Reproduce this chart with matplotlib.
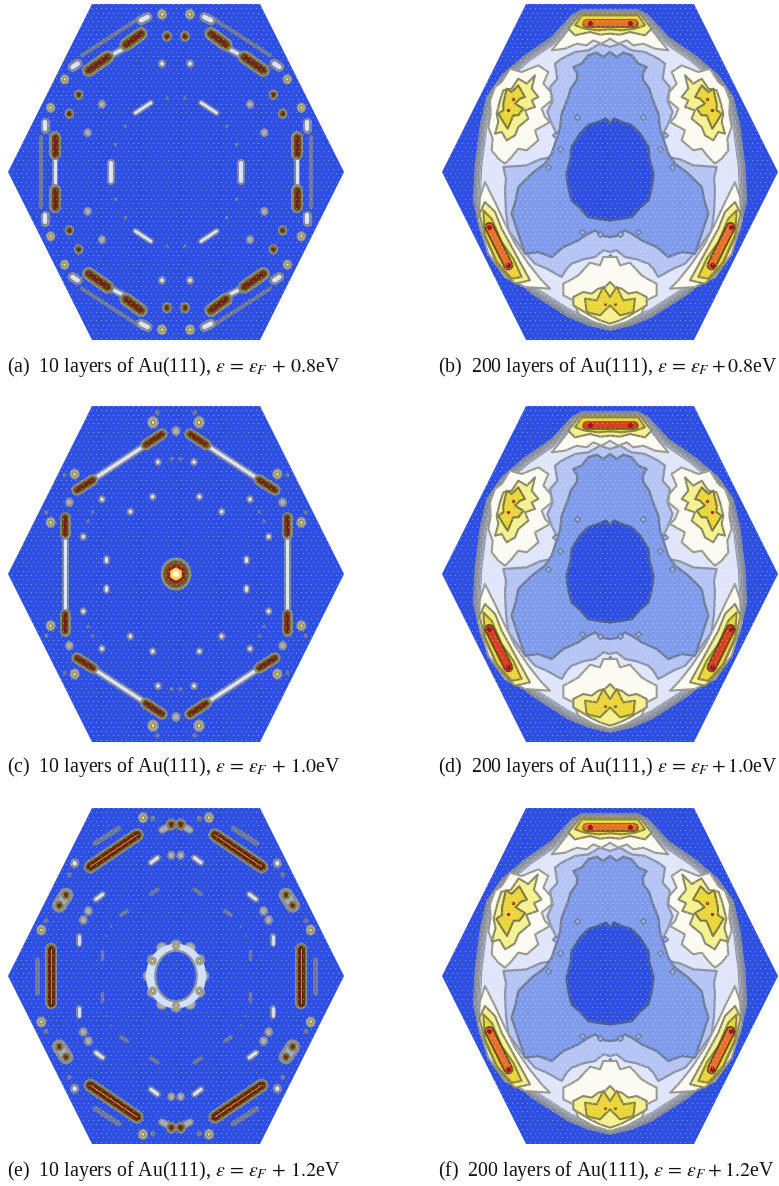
import numpy as np
import matplotlib
matplotlib.use("Agg")
import matplotlib.pyplot as plt
from matplotlib.patches import Polygon, Ellipse, RegularPolygon

plt.rcParams['mathtext.fontset'] = 'stix'
W, H = 779, 1186
BLUE = '#2d4fe3'

# ---------- values (offsets from hexagon centre, 3 units = 1 px) ----------
HEX = [(-252, -504), (252, -504), (504, 0), (252, 504), (-252, 504), (-504, 0)]

# kind, x0, y0, x1, y1, radius; mirrored into all four quadrants
SPOTS_A = [
    ('ring', 42, -473, 42, -473, 15), ('brown', 27, -407, 27, -407, 15), ('white', 42, -325, 42, -325, 12),
    ('dot', 27, -222, 27, -222, 5), ('bar', 112, -460, 282, -350, 6), ('white', 85, -465, 105, -455, 15),
    ('white', 130, -385, 240, -325, 11), ('brown', 105, -415, 150, -382, 20), ('brown', 205, -345, 262, -305, 20),
    ('white', 295, -325, 310, -315, 15), ('ring', 334, -278, 334, -278, 14), ('brown', 292, -232, 292, -232, 14),
    ('grey', 222, -203, 222, -203, 12), ('white', 75, -208, 122, -177, 9), ('dot', 152, -137, 152, -137, 5),
    ('dot', 182, -82, 182, -82, 5), ('ring', 376, -193, 376, -193, 14), ('brown', 320, -175, 320, -175, 14),
    ('white', 392, -150, 392, -130, 14), ('grey', 265, -118, 265, -118, 12), ('white', 362, -80, 362, 80, 9),
    ('brown', 362, -105, 362, -55, 18), ('bar', 404, -105, 404, 105, 6), ('white', 194, -28, 194, 28, 12),
]
SPOTS_C = [
    ('dot', 56, -484, 56, -484, 7), ('ring', 69, -455, 69, -455, 17), ('grey', 0, -429, 0, -429, 13),
    ('white', 37, -422, 297, -252, 11), ('brown', 42, -420, 90, -388, 17), ('brown', 250, -282, 297, -252, 17),
    ('dot', 13, -345, 13, -345, 6), ('white', 54, -336, 54, -336, 11), ('ring', 304, -300, 304, -300, 15),
    ('dot', 334, -297, 334, -297, 6), ('white', 70, -232, 70, -232, 11), ('white', 222, -224, 222, -224, 11),
    ('grey', 320, -215, 320, -215, 13), ('white', 137, -187, 137, -187, 11), ('dot', 250, -186, 250, -186, 5),
    ('dot', 264, -158, 264, -158, 5), ('dot', 389, -185, 389, -185, 6), ('ring', 376, -155, 376, -155, 15),
    ('white', 278, -112, 278, -112, 11), ('white', 209, -48, 209, -40, 10), ('white', 334, -170, 334, 170, 10),
    ('brown', 334, -170, 334, -120, 16),
]
SPOTS_E = [
    ('ring', 99, -475, 99, -475, 15), ('dot', 70, -473, 70, -473, 8), ('grey', 16, -452, 42, -438, 11),
    ('brown', 14, -455, 14, -455, 16), ('bar', 172, -443, 242, -398, 8), ('dark', 117, -423, 257, -328, 20),
    ('grey', 14, -362, 14, -362, 12), ('white', 55, -355, 75, -340, 10), ('white', 304, -338, 304, -338, 14),
    ('dot', 320, -304, 320, -304, 7), ('bar', 55, -260, 75, -246, 6), ('bar', 147, -195, 165, -183, 6),
    ('dot', 194, -148, 194, -148, 3), ('dot', 209, -120, 209, -120, 3), ('bar', 222, -75, 222, -50, 5),
    ('grey', 330, -243, 350, -212, 22), ('brown', 330, -243, 330, -243, 14), ('brown', 350, -212, 350, -212, 14),
    ('white', 220, -245, 240, -230, 10), ('grey', 263, -195, 263, -195, 13), ('grey', 278, -168, 278, -168, 13),
    ('dot', 390, -166, 390, -166, 7), ('ring', 404, -138, 404, -138, 15), ('white', 292, -120, 292, -95, 9),
    ('dark', 376, -82, 376, 82, 18), ('bar', 417, -45, 417, 50, 7),
]
CENTRE_HEX_C = [(46, '#8b8a80', 'round'), (38, '#6b5a22', 'round'), (30, '#a8141c', 'hex'),
                (20, '#e9dc55', 'hex'), (10, '#ffffff', 'hex')]
RING_E = {'outer': (90, 97), 'inner': (62, 76)}
RING_E_BUMPS = [(0, -92), (42, -84), (70, -48), (82, 0), (70, 48), (42, 84), (0, 92),
                (-42, 84), (-70, 48), (-82, 0), (-70, -48), (-42, -84)]
RING_E_SPOTS = [(0, -90), (0, 90), (70, -45), (-70, -45), (70, 45), (-70, 45)]

# right half of each contour, top to bottom; mirrored in x
OUTER = [(0, -487), (85, -487), (115, -470), (175, -405), (255, -350), (325, -290), (370, -225), (390, -135),
         (405, -15), (410, 85), (390, 175), (325, 285), (235, 365), (125, 435), (65, 460), (0, 475)]
CONTOUR_A = [(0, -375), (30, -385), (65, -365), (105, -360), (145, -340), (165, -325), (158, -280), (180, -255),
             (172, -215), (188, -180), (175, -145), (160, -115), (140, -85), (155, -65), (175, -45), (210, -38),
             (250, -20), (320, -15), (312, 20), (315, 55), (312, 120), (305, 175), (265, 230), (225, 275),
             (190, 290), (145, 315), (130, 290), (115, 275), (80, 262), (45, 255), (20, 235), (0, 240)]
CONTOUR_B = [(0, -360), (20, -345), (40, -358), (65, -350), (85, -325), (110, -315), (98, -295), (100, -275),
             (118, -250), (125, -225), (135, -200), (145, -175), (150, -130), (165, -85), (175, -55), (195, -25),
             (235, 5), (275, 45), (283, 85), (295, 125), (275, 185), (255, 245), (215, 240), (175, 255),
             (140, 225), (95, 205), (70, 188), (45, 175), (20, 192), (0, 195)]
CONTOUR_C = [(0, -145), (12, -160), (35, -150), (65, -140), (90, -115), (115, -75), (118, -40), (130, 5),
             (125, 45), (115, 85), (92, 105), (65, 135), (35, 140), (0, 145)]
WHITE_TOP = [(0, -480), (85, -470), (115, -440), (150, -395), (175, -365), (135, -370), (100, -385),
             (70, -380), (50, -395), (25, -385), (0, -400)]
YELLOW_TOP = [(0, -475), (90, -475), (125, -430), (105, -410), (60, -420), (30, -412), (0, -415)]
GOLD_TOP = [(0, -470), (85, -470), (105, -440), (75, -430), (35, -425), (0, -428)]
WHITE_SIDE = [(345, -255), (325, -270), (300, -310), (265, -300), (215, -320), (185, -300), (200, -265), (178, -240),
              (175, -215), (205, -190), (195, -165), (180, -150), (225, -125), (215, -95), (250, -65), (275, -70),
              (295, -45), (315, -25), (335, -40), (355, -65), (352, -100), (365, -135), (358, -175), (360, -215)]
YELLOW_SIDE = [(320, -245), (295, -250), (275, -280), (250, -265), (225, -290), (235, -250), (215, -225), (235, -215),
               (225, -195), (255, -185), (245, -160), (275, -135), (285, -110), (310, -95), (325, -120), (345, -115),
               (335, -150), (340, -175), (330, -215)]
GOLD_SIDE = [(310, -250), (295, -240), (275, -260), (255, -225), (270, -220), (285, -205), (260, -190), (275, -170),
             (290, -170), (307, -130), (320, -150), (335, -175), (320, -185), (320, -205)]
RED_SIDE = [(290, -218), (307, -187)]
WHITE_BOTTOM = [(0, 255), (20, 255), (30, 280), (60, 272), (95, 310), (115, 322), (140, 335), (140, 370),
                (110, 385), (95, 425), (50, 450), (0, 465)]
YELLOW_BOTTOM = [(0, 330), (15, 345), (35, 350), (55, 365), (80, 360), (110, 375), (110, 400), (85, 415),
                 (60, 430), (30, 445), (0, 455)]
GOLD_BOTTOM = [(0, 375), (20, 345), (40, 385), (75, 380), (70, 420), (30, 430), (0, 400)]
RED_BOTTOM = [(15, 395), (-15, 395)]
WHITE_LOW = [(375, 30), (345, 90), (315, 155), (285, 215), (245, 275), (205, 325), (180, 350), (255, 345),
             (315, 315), (365, 245), (395, 145), (390, 75)]
YELLOW_LOW = [(375, 90), (345, 120), (325, 170), (300, 215), (270, 270), (240, 325), (285, 335), (335, 285),
              (375, 195), (392, 125)]
GOLD_LOW = [(380, 115), (355, 140), (325, 210), (290, 260), (265, 315), (295, 320), (340, 270), (375, 190)]
ORANGE_LOW = (362, 165, 305, 280)
ORANGE_TOP = (-72, -447, 72, -447)
RED_TOP = [(60, -447), (-60, -447)]
DIAMONDS = [(100, -165), (165, -110), (150, -70), (185, -15), (-185, -15), (-100, -165), (-165, -110), (-150, -70),
            (85, 180), (30, 185), (-30, 185), (-85, 180), (0, 255)]

CAPTIONS = [
    r'(a)  10 layers of Au(111), $\varepsilon\,=\,\varepsilon_F\,+\,0.8$eV',
    r'(b)  200 layers of Au(111), $\varepsilon\,=\,\varepsilon_F+0.8$eV',
    r'(c)  10 layers of Au(111), $\varepsilon\,=\,\varepsilon_F\,+\,1.0$eV',
    r'(d)  200 layers of Au(111,) $\varepsilon\,=\,\varepsilon_F+1.0$eV',
    r'(e)  10 layers of Au(111), $\varepsilon\,=\,\varepsilon_F\,+\,1.2$eV',
    r'(f)  200 layers of Au(111), $\varepsilon\,=\,\varepsilon_F+1.2$eV',
]
CAPTION_X = [7, 438, 7, 438, 7, 438]
CAPTION_Y = [367, 367, 767, 767, 1171, 1171]
CENTRES = [(176, 172), (610, 172), (176, 574), (610, 574), (176, 976), (610, 976)]

# ---------- styling ----------
STYLES = {
    'dot': [(1.0, '#6f7793')],
    'bar': [(1.0, '#6d7898')],
    'grey': [(1.0, '#8a8d96'), (0.55, '#a9adb5')],
    'white': [(1.0, '#81869b'), (0.45, '#dbe4fb')],
    'ring': [(1.0, '#8d8f93'), (0.72, '#b4b08e'), (0.48, '#8d8a5f'), (0.22, '#f3ed9a')],
    'brown': [(1.0, '#8a8b86'), (0.78, '#827b4a'), (0.55, '#5f4a1c'), (0.28, '#7a1d12')],
    'dark': [(1.0, '#868a8e'), (0.82, '#80783f'), (0.6, '#553a14'), (0.36, '#6b1c10'), (0.08, '#d98a25')],
}
PX = 72 / 100 / 3  # points per data unit

fig = plt.figure(figsize=(W / 100, H / 100), dpi=100)


def panel(cx, cy):
    ax = fig.add_axes([(cx - 168) / W, 1 - (cy + 168) / H, 336 / W, 336 / H])
    ax.set_xlim(-504, 504)
    ax.set_ylim(504, -504)
    ax.axis('off')
    hexagon = Polygon(HEX, closed=True, fc=BLUE, ec='none', zorder=0)
    ax.add_patch(hexagon)
    return ax, hexagon


def texture(ax, hexagon):
    xs = np.arange(-504, 505, 15.0)
    ys = np.arange(-504, 505, 13.0)
    gx, gy = np.meshgrid(xs, ys)
    gx[1::2] += 7.5
    s = ax.scatter(gx.ravel(), gy.ravel(), s=0.55, c='white', alpha=0.5, lw=0, zorder=8)
    s.set_clip_path(hexagon)


def capsule(ax, kind, x0, y0, x1, y1, r, z=3):
    for f, c in STYLES[kind]:
        if x0 == x1 and y0 == y1:
            ax.add_patch(Ellipse((x0, y0), 2 * r * f, 2 * r * f * 1.1, fc=c, ec='none', zorder=z))
        else:
            ax.plot([x0, x1], [y0, y1], color=c, lw=2 * r * f * PX, solid_capstyle='round', zorder=z)
        z += 0.01


def spots(ax, items):
    for i, (kind, x0, y0, x1, y1, r) in enumerate(items):
        for sx, sy in [(1, 1), (-1, 1), (1, -1), (-1, -1)]:
            capsule(ax, kind, sx * x0, sy * y0, sx * x1, sy * y1, r, z=3 + i * 0.02)


def mirrored(half):
    pts = list(half)
    return pts + [(-x, y) for x, y in reversed(half) if x != 0]


def scaled(pts, k):
    a = np.array(pts, float)
    c = a.mean(axis=0)
    return c + (a - c) * k


def poly(ax, pts, fc, ec='#8d9097', lw=1.5, z=2):
    ax.add_patch(Polygon(np.asarray(pts), closed=True, fc=fc, ec=ec, lw=lw, zorder=z, joinstyle='round'))


def both(pts):
    a = np.array(pts, float)
    return [a, a * [-1, 1]]


def right_panel(ax, tops, blob=1.0):
    outer = np.array(mirrored(OUTER), float)
    for k, c in zip([1.0, 0.99, 0.98, 0.97, 0.96, 0.95],
                    ['#7c818e', '#8d92a2', '#a1a7bb', '#b7bdd3', '#ccd4ec', '#dfe6fb']):
        poly(ax, outer * k, c, ec='#8a8f9b', lw=0.7, z=1.2)
    poly(ax, mirrored(CONTOUR_A), '#b4c4f4', ec='#8a93a8', lw=1.6, z=1.5)
    poly(ax, mirrored(CONTOUR_B), '#7f9cec', ec='#6f7c9a', lw=1.7, z=1.6)
    poly(ax, mirrored(CONTOUR_C), BLUE, ec='#4a5f9a', lw=1.9, z=1.7)
    ax.scatter(*zip(*DIAMONDS), marker='D', s=9, fc='#9db2f0', ec='#717d9b', lw=1.0, zorder=1.8)
    # top
    poly(ax, mirrored(WHITE_TOP), '#fbfbf2', ec='#9a9a90')
    poly(ax, mirrored(YELLOW_TOP), '#f6f190', ec='#8a8a66', z=2.1)
    poly(ax, mirrored(GOLD_TOP), '#ead63a', ec='#8a8440', z=2.2)
    x0, y0, x1, y1 = ORANGE_TOP
    ax.plot([x0, x1], [y0, y1], color='#6a5a20', lw=2 * 13 * PX, solid_capstyle='round', zorder=2.3)
    ax.plot([x0, x1], [y0, y1], color=tops, lw=2 * 9 * PX, solid_capstyle='round', zorder=2.4)
    ax.scatter(*zip(*RED_TOP), s=14, c='#a8101c', lw=0, zorder=2.5)
    # upper sides
    for p in both(WHITE_SIDE):
        poly(ax, p, '#fbfbf2', ec='#9a9a90')
    for p in both(scaled(YELLOW_SIDE, blob)):
        poly(ax, p, '#f6f190', ec='#8a8a66', z=2.1)
    for p in both(scaled(GOLD_SIDE, blob)):
        poly(ax, p, '#ead63a', ec='#7d7a40', z=2.2)
    for x, y in RED_SIDE:
        ax.scatter([x, -x], [y, y], s=6, c='#a8301c', lw=0, zorder=2.3)
    # bottom
    poly(ax, mirrored(WHITE_BOTTOM), '#fbfbf2', ec='#9a9a90')
    poly(ax, mirrored(YELLOW_BOTTOM), '#f6f190', ec='#8a8a66', z=2.1)
    poly(ax, mirrored(GOLD_BOTTOM), '#ead63a', ec='#8a8440', z=2.2)
    ax.scatter(*zip(*RED_BOTTOM), s=5, c='#a8501c', lw=0, zorder=2.3)
    # lower sides
    for p in both(WHITE_LOW):
        poly(ax, p, '#fbfbf2', ec='#9a9a90')
    for p in both(YELLOW_LOW):
        poly(ax, p, '#f6f190', ec='#8a8a66', z=2.1)
    for p in both(GOLD_LOW):
        poly(ax, p, '#ead63a', ec='#8a8440', z=2.2)
    x0, y0, x1, y1 = ORANGE_LOW
    for s in (1, -1):
        ax.plot([s * x0, s * x1], [y0, y1], color='#5f4a1c', lw=2 * 15 * PX, solid_capstyle='round', zorder=2.3)
        ax.plot([s * x0, s * x1], [y0, y1], color=tops, lw=2 * 10 * PX, solid_capstyle='round', zorder=2.4)
        ax.scatter([s * x0, s * x1], [y0, y1], s=14, c='#a8101c', lw=0, zorder=2.5)


# panel a
ax, hx = panel(*CENTRES[0]); spots(ax, SPOTS_A); texture(ax, hx)

# panel b
ax, hx = panel(*CENTRES[1]); right_panel(ax, '#e8702a'); texture(ax, hx)

# panel c
ax, hx = panel(*CENTRES[2]); spots(ax, SPOTS_C)
for r, c, shape in CENTRE_HEX_C:
    if shape == 'round':
        ax.add_patch(Ellipse((0, 0), 2 * r, 2 * r * 1.08, fc=c, ec='none', zorder=4))
    else:
        ax.add_patch(RegularPolygon((0, 0), 6, radius=r, fc=c, ec='none', zorder=4.1))
texture(ax, hx)

# panel d
ax, hx = panel(*CENTRES[3]); right_panel(ax, '#d8401f'); texture(ax, hx)

# panel e
ax, hx = panel(*CENTRES[4]); spots(ax, SPOTS_E)
ox, oy = RING_E['outer']; ix, iy = RING_E['inner']
for x, y in RING_E_BUMPS:
    ax.add_patch(Ellipse((x, y), 30, 30, fc='#a9acb6', ec='#8a8f9e', lw=1.2, zorder=3.0))
ax.add_patch(Ellipse((0, 0), 2 * ox, 2 * oy, fc='#d3def9', ec='none', zorder=3.1))
ax.add_patch(Ellipse((0, 0), 2 * ix, 2 * iy, fc=BLUE, ec='#8a8f9e', lw=1.6, zorder=3.2))
for x, y in RING_E_SPOTS:
    capsule(ax, 'ring', x, y, x, y, 12, z=3.3)
texture(ax, hx)

# panel f
ax, hx = panel(*CENTRES[5]); right_panel(ax, '#e8702a', blob=1.15); texture(ax, hx)

for t, x, y in zip(CAPTIONS, CAPTION_X, CAPTION_Y):
    fig.text(x / W, 1 - y / H, t, family='Liberation Serif', fontsize=14.3, va='center', ha='left', color='#111111')

fig.savefig('out.png', dpi=100)
